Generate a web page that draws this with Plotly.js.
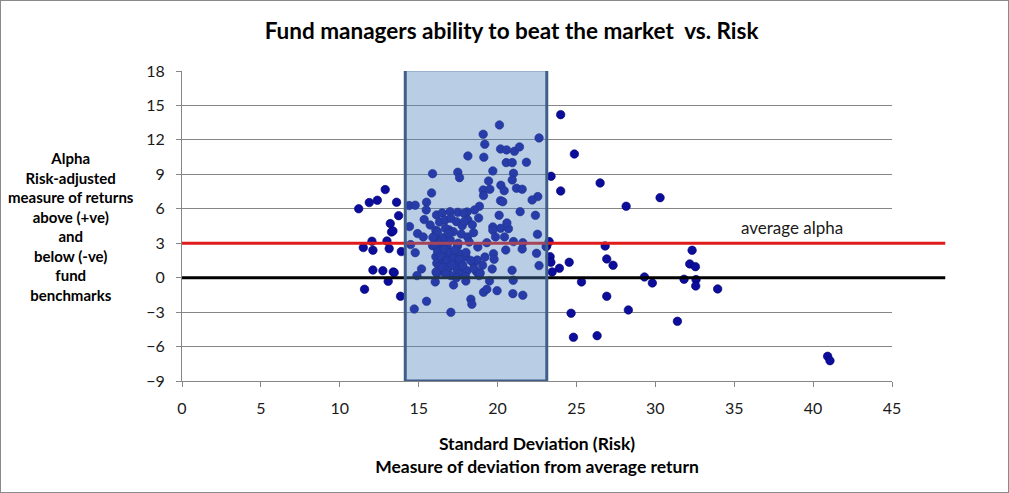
<!DOCTYPE html>
<html>
<head>
<meta charset="utf-8">
<script src="https://cdn.plot.ly/plotly-3.0.1.min.js"></script>
<style>
  body { margin: 0; background: #fff; }
  #wrap { position: relative; width: 1009px; height: 493px; }
  #frame { position: absolute; left: 0; top: 0; width: 1009px; height: 493px;
           box-sizing: border-box; border: 1px solid #8a8a8a; pointer-events: none; }
</style>
</head>
<body>
<div id="wrap">
  <div id="plot"></div>
  <div id="frame"></div>
</div>
<script>
// fund standard deviation (risk) and alpha
const stdDev = [
  // left of the band
  11.2, 11.87, 12.38, 12.88, 13.6, 13.73, 13.2, 13.28, 13.37, 12.04,
  12.99, 11.49, 12.1, 13.13, 13.9, 12.1, 12.73, 13.39, 13.45, 13.07,
  11.57, 13.85,
  // inside the band
  20.12, 19.09, 19.19, 22.63, 20.19, 20.57, 21.07, 21.39, 18.12, 19.13,
  20.55, 20.93, 21.83, 19.7, 17.48, 17.59, 15.88, 21.01, 20.93, 19.43,
  20.21, 19.09, 19.51, 19.11, 20.42, 21.2, 21.56, 15.82, 22.55, 22.19,
  20.19, 20.33, 14.4, 14.78, 15.5, 15.48, 18.85, 18.54, 18.07, 21.43,
  16.13, 16.49, 16.99, 17.48, 17.86, 20.1, 22.4, 15.35, 15.73, 16.32,
  16.68, 17.04, 17.4, 17.76, 18.12, 14.42, 16.09, 16.94, 19.7, 20.19,
  20.69, 19.7, 20.59, 22.53, 14.93, 15.29, 16.0, 16.2, 18.1, 18.48,
  19.87, 20.44, 14.49, 15.88, 16.3, 16.81, 17.46, 18.75, 19.32, 21.01,
  21.6, 14.78, 20.52, 22.47, 21.56, 16.09, 16.53, 16.79, 17.17, 17.63,
  17.99, 19.74, 19.78, 16.15, 16.58, 16.96, 17.38, 18.48, 18.71, 19.05,
  22.63, 15.18, 16.36, 16.79, 17.42, 17.74, 18.07, 18.67, 19.66, 20.92,
  14.89, 16.15, 17.04, 17.55, 17.97, 18.83, 17.21, 16.05, 17.99, 19.49,
  20.99, 19.11, 19.32, 19.97, 20.97, 21.6, 15.5, 18.31, 18.37, 14.72,
  17.04, 23.12,
  16.2, 16.4, 16.6, 16.8, 17.0, 17.2, 16.3, 16.5, 16.9, 17.1,
  17.3, 17.6, 17.8, 16.1, 16.7, 17.4, 16.0, 16.4, 16.6, 17.0,
  17.5, 18.0, 18.3, 18.5, 18.9, 19.2, 18.2, 16.2, 16.7, 17.2,
  17.7, 18.4, 18.8, 17.9, 16.9, 15.9,
  // right of the band
  24.0, 24.87, 23.39, 24.0, 26.5, 30.3, 28.15, 26.82, 26.92, 27.32,
  24.54, 23.92, 23.46, 23.33, 23.38, 25.32, 29.31, 29.81, 32.33, 32.18,
  32.54, 31.82, 32.58, 32.56, 33.95, 26.92, 28.29, 31.4, 24.66, 24.81,
  26.31, 40.92, 41.07, 23.08, 23.27
];
const alpha = [
  6.0, 6.54, 6.74, 7.67, 6.57, 5.4, 4.71, 3.98, 4.07, 3.17,
  3.2, 2.62, 2.39, 2.53, 2.27, 0.67, 0.61, 0.5, 0.44, -0.32,
  -1.01, -1.62,
  13.3, 12.49, 11.62, 12.17, 11.21, 11.13, 11.01, 11.39, 10.6, 10.49,
  10.02, 10.02, 10.05, 9.3, 9.18, 8.71, 9.06, 9.09, 8.51, 8.42,
  8.05, 7.64, 7.7, 7.15, 7.58, 7.79, 7.7, 7.38, 7.06, 6.77,
  6.71, 6.62, 6.28, 6.31, 6.57, 5.9, 6.22, 5.9, 5.72, 5.75,
  5.46, 5.64, 5.75, 5.69, 5.61, 5.43, 5.43, 5.06, 4.59, 4.85,
  5.03, 5.17, 4.88, 4.53, 5.03, 4.45, 4.13, 4.16, 4.42, 4.3,
  4.27, 4.13, 4.77, 3.78, 3.84, 3.55, 3.63, 3.34, 3.55, 3.92,
  3.55, 3.55, 2.88, 2.79, 2.7, 2.79, 2.76, 2.67, 3.05, 3.14,
  3.05, 2.18, 2.41, 2.12, 2.5, 1.83, 2.27, 1.83, 1.98, 2.07,
  1.83, 2.09, 1.6, 1.25, 1.31, 1.19, 1.4, 1.25, 1.54, 1.08,
  1.05, 0.76, 0.61, 0.67, 0.73, 0.82, 0.61, 0.52, 0.76, 0.64,
  0.18, 0.38, 0.18, 0.29, 0.09, 0.18, -0.63, -0.37, -0.29, -0.29,
  -0.23, -1.27, -1.01, -1.13, -1.39, -1.53, -2.06, -1.88, -2.32, -2.73,
  -3.02, 2.79,
  2.3, 1.9, 2.5, 1.5, 2.2, 1.7, 1.0, 0.9, 0.9, 1.1,
  2.4, 1.6, 1.1, 0.5, 0.3, 0.0, 2.9, 3.2, 3.5, 3.3,
  3.0, 2.2, 1.5, 0.8, 0.4, 1.8, 3.1, 4.0, 4.3, 4.0,
  3.8, 4.6, 5.2, 4.9, 3.9, 3.5,
  14.2, 10.77, 8.83, 7.55, 8.25, 6.97, 6.22, 2.76, 1.63, 1.08,
  1.34, 0.82, 0.5, 1.83, 1.34, -0.37, 0.06, -0.46, 2.38, 1.2,
  0.96, -0.14, -0.17, -0.72, -0.98, -1.62, -2.81, -3.8, -3.1, -5.19,
  -5.05, -6.85, -7.23, 2.7, 3.14
];

const averageAlpha = 3;
const benchmark = 0;
const riskBand = [14.15, 23.12];   // highlighted std dev range
const yRange = [-9, 18];
const xRange = [0, 45];

const FONT = 'Lato, "Open Sans", sans-serif';
const GRID = '#868686';

const trace = {
  x: stdDev,
  y: alpha,
  type: 'scatter',
  mode: 'markers',
  marker: { size: 8.5, color: '#0d0d9c', line: { width: 0.6, color: '#00006e' } },
  hoverinfo: 'x+y'
};

const layout = {
  width: 1009,
  height: 493,
  margin: { l: 182, r: 117, t: 71, b: 112 },
  paper_bgcolor: '#fff',
  plot_bgcolor: '#fff',
  showlegend: false,
  font: { family: FONT, size: 16, color: '#1a1a1a' },
  title: {
    text: 'Fund managers ability to beat the market  vs. Risk',
    font: { family: FONT, size: 22.5, color: '#000', weight: 'bold' },
    xref: 'container', x: 0.507, xanchor: 'center',
    yref: 'container', y: 0.937, yanchor: 'middle'
  },
  xaxis: {
    range: xRange,
    dtick: 5,
    showgrid: false,
    zeroline: false,
    showline: true, linecolor: GRID, linewidth: 1,
    ticks: 'outside', ticklen: 5, tickcolor: GRID,
    ticklabelstandoff: 8,
    tickfont: { family: FONT, size: 16, color: '#1a1a1a' },
    title: {
      text: 'Standard Deviation (Risk)<br>Measure of deviation from average return',
      font: { family: FONT, size: 17.5, color: '#000', weight: 'bold' },
      standoff: 21
    }
  },
  yaxis: {
    range: yRange,
    dtick: 3,
    showgrid: true, gridcolor: GRID, gridwidth: 1,
    zeroline: false,
    showline: true, linecolor: GRID, linewidth: 1,
    ticks: 'outside', ticklen: 5, tickcolor: GRID,
    ticklabelstandoff: 8,
    tickfont: { family: FONT, size: 16, color: '#1a1a1a' }
  },
  shapes: [
    { type: 'line', layer: 'above', xref: 'paper', yref: 'y',
      x0: 0, x1: 1.075, y0: averageAlpha, y1: averageAlpha,
      line: { color: '#e01b1b', width: 3 } },
    { type: 'line', layer: 'above', xref: 'paper', yref: 'y',
      x0: 0, x1: 1.075, y0: benchmark, y1: benchmark,
      line: { color: '#000', width: 3 } },
    { type: 'rect', layer: 'above', xref: 'x', yref: 'y',
      x0: riskBand[0], x1: riskBand[1], y0: yRange[0], y1: 18.1,
      fillcolor: 'rgba(79,129,189,0.4)',
      line: { color: '#3f5f8a', width: 3 } }
  ],
  annotations: [
    { text: 'average alpha', xref: 'x', yref: 'y', x: 38.66, y: 4.4,
      showarrow: false, font: { family: FONT, size: 17, color: '#1a1a1a' } },
    { text: 'Alpha<br>Risk-adjusted<br>measure of returns<br>above (+ve)<br>and<br>below (-ve)<br>fund<br>benchmarks',
      xref: 'paper', yref: 'paper', x: -0.157, y: 0.5, xanchor: 'center', yanchor: 'middle',
      align: 'center', showarrow: false,
      font: { family: FONT, size: 15, color: '#000', weight: 'bold' } }
  ]
};

Plotly.newPlot('plot', [trace], layout, { displayModeBar: false, staticPlot: true });
</script>
</body>
</html>
